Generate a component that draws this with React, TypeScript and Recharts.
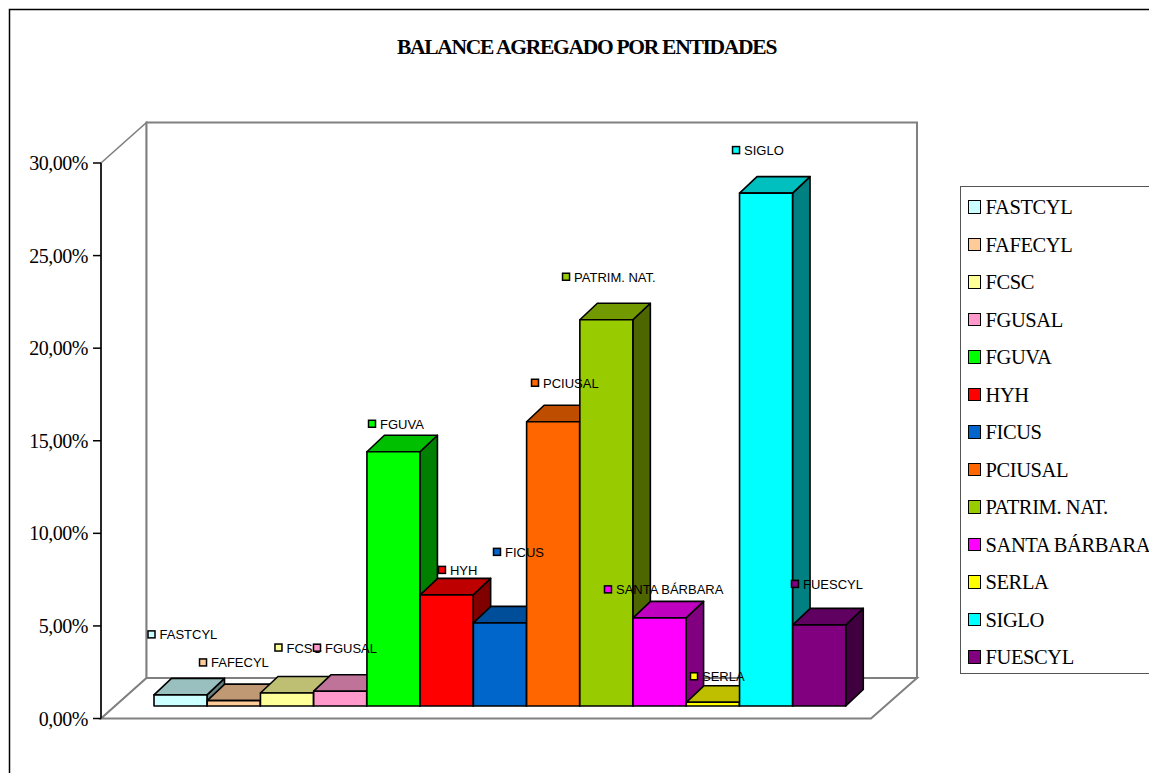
import React from 'react';
import { BarChart, Bar, XAxis, YAxis, Legend, LabelList, Customized } from 'recharts';

const categories = ['FASTCYL', 'FAFECYL', 'FCSC', 'FGUSAL', 'FGUVA', 'HYH', 'FICUS', 'PCIUSAL', 'PATRIM. NAT.', 'SANTA BÁRBARA', 'SERLA', 'SIGLO', 'FUESCYL'];
const shares = [0.6, 0.29, 0.7, 0.8, 13.73, 6.0, 4.49, 15.35, 20.86, 4.76, 0.2, 27.7, 4.38];
const colours = ['#CCFFFF', '#FFCC99', '#FFFF99', '#FF99CC', '#00FF00', '#FF0000', '#0066CC', '#FF6600', '#99CC00', '#FF00FF', '#FFFF00', '#00FFFF', '#800080'];
const tickValues = [0, 5, 10, 15, 20, 25, 30];
const titleText = 'BALANCE AGREGADO POR ENTIDADES';

// Layout only: where each free-floating data label sits relative to its bar's top-left corner.
const labelNudgeX = [-2.5, -4.2, 18, 3.3, 5.1, 21.8, 23.6, 8.4, -13.8, -25.1, 7.7, -3.5, 2.2];
const labelNudgeY = [-60.5, -38.2, -45.5, -43.5, -28, -25, -71, -39, -43, -28.5, -26, -43, -41];

const table = categories.map((name, i) => ({ name, share: shares[i], colour: colours[i], i }));

const WIDTH = 1149;
const HEIGHT = 773;
const LEGEND_W = 200;
const SERIF = '"Liberation Serif", "Times New Roman", serif';
const SANS = '"Liberation Sans", Arial, sans-serif';
const GREY = '#808080';
const LIFT = 12.5; // bars stand part-way back on the floor
const DEPTH_X = 17.5;
const DEPTH_Y = 16.5;

const shade = (hex: string, f: number) => {
  const n = parseInt(hex.slice(1), 16);
  const c = (s: number) => Math.round(((n >> s) & 255) * f);
  return `rgb(${c(16)},${c(8)},${c(0)})`;
};

const formatTick = (v: number) => `${v.toFixed(2).replace('.', ',')}%`;

const Box3D = (props: any) => {
  const { x, y, width, height, payload } = props;
  const colour = payload.colour;
  const top = y - LIFT;
  const bottom = y + height - LIFT;
  const right = x + width;
  return (
    <g stroke="#000" strokeWidth={1.6} strokeLinejoin="round">
      <polygon points={`${right},${top} ${right + DEPTH_X},${top - DEPTH_Y} ${right + DEPTH_X},${bottom - DEPTH_Y} ${right},${bottom}`} fill={shade(colour, 0.5)} />
      <polygon points={`${x},${top} ${x + DEPTH_X},${top - DEPTH_Y} ${right + DEPTH_X},${top - DEPTH_Y} ${right},${top}`} fill={shade(colour, 0.75)} />
      <rect x={x} y={top} width={width} height={bottom - top} fill={colour} />
    </g>
  );
};

const FloatingLabel = (props: any) => {
  const { x, y, index, value } = props;
  const cx = x + labelNudgeX[index];
  const cy = y - LIFT + labelNudgeY[index];
  return (
    <g>
      <rect x={cx - 3.5} y={cy - 3.5} width={7} height={7} fill={colours[index]} stroke="#000" strokeWidth={1.5} />
      <text x={cx + 8} y={cy + 5} fontFamily={SANS} fontSize={13} fill="#000">{value}</text>
    </g>
  );
};

const Frame = () => (
  <g>
    <rect x={9.5} y={9.5} width={WIDTH + 20} height={HEIGHT + 20} fill="#fff" stroke="#000" strokeWidth={1.5} />
    <text x={586.5} y={54} textAnchor="middle" fontFamily={SERIF} fontWeight="bold" fontSize={21.5} letterSpacing={-1.28} fill="#000">{titleText}</text>
    <g fill="#fff" stroke={GREY} strokeWidth={1.6}>
      <polygon points="101,163 146.5,122.5 146.5,678 101,718.5" />
      <rect x={146.5} y={122.5} width={770.5} height={555.5} strokeWidth={2} />
      <polygon points="101,718.5 146.5,678 917,678 871,718.5" strokeWidth={2} />
    </g>
  </g>
);

const LegendBox = () => (
  <div style={{ position: 'absolute', left: 0, top: 0, width: LEGEND_W, height: 488, boxSizing: 'border-box', background: '#fff', border: `1.5px solid #555`, fontFamily: SERIF, fontSize: 20.5, letterSpacing: -0.4, color: '#000', whiteSpace: 'nowrap' }}>
    {categories.map((name, i) => (
      <div key={name} style={{ position: 'absolute', left: 7, top: 2 + i * 37.5, height: 37.5, display: 'flex', alignItems: 'center' }}>
        <span style={{ display: 'inline-block', width: 10.5, height: 11.5, background: colours[i], border: '1.5px solid #000', marginRight: 5, marginTop: -2 }} />
        <span>{name}</span>
      </div>
    ))}
  </div>
);

export default function App() {
  return (
    <div style={{ position: 'absolute', left: 0, top: 0, width: WIDTH, height: HEIGHT, overflow: 'hidden', background: '#fff' }}>
      <BarChart
        width={WIDTH}
        height={HEIGHT}
        data={table}
        barCategoryGap={0}
        margin={{ top: 163, right: WIDTH - 871 - LEGEND_W, bottom: HEIGHT - 718.5, left: 0 }}
      >
        <Customized component={Frame} />
        <XAxis dataKey="name" hide padding={{ left: 53, right: 25 }} />
        <YAxis
          width={101}
          domain={[0, 30]}
          ticks={tickValues}
          tickFormatter={formatTick}
          interval={0}
          tickSize={8}
          tickMargin={5}
          axisLine={{ stroke: '#000', strokeWidth: 1.5 }}
          tickLine={{ stroke: '#000', strokeWidth: 1.5 }}
          tick={{ fill: '#000', fontFamily: SERIF, fontSize: 20, letterSpacing: -0.5 }}
        />
        <Bar dataKey="share" isAnimationActive={false} shape={Box3D}>
          <LabelList dataKey="name" content={FloatingLabel} />
        </Bar>
        <Legend
          layout="vertical"
          align="right"
          verticalAlign="middle"
          content={LegendBox}
          wrapperStyle={{ position: 'absolute', left: 960, top: 186, right: 'auto', bottom: 'auto', width: LEGEND_W, height: 488 }}
        />
      </BarChart>
    </div>
  );
}
